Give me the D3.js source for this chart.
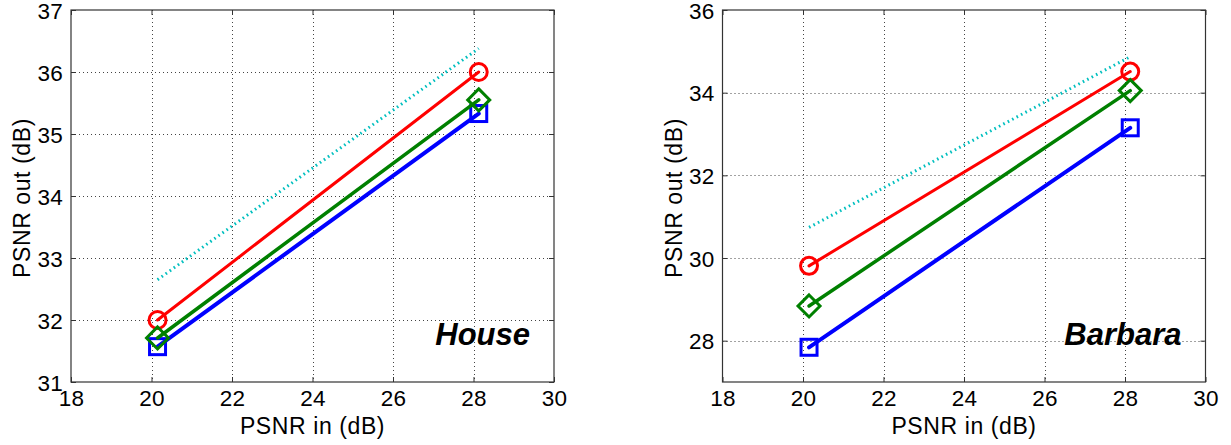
<!DOCTYPE html>
<html>
<head>
<meta charset="utf-8">
<script src="https://cdn.jsdelivr.net/npm/d3@7"></script>
<style>
  html, body { margin: 0; padding: 0; background: #fff; }
  svg { display: block; }
  text { font-family: "Liberation Sans", Arial, sans-serif; fill: #000; }
</style>
</head>
<body>
<svg id="chart" width="1231" height="445"></svg>
<script>
// ---- data ----
const psnrIn = [20.15, 28.13];

const houseCyan  = [32.65, 36.38];
const houseRed   = [32.0, 36.0];
const houseGreen = [31.71, 35.55];
const houseBlue  = [31.57, 35.33];

const barbaraCyan  = [30.74, 34.87];
const barbaraRed   = [29.81, 34.51];
const barbaraGreen = [28.84, 34.05];
const barbaraBlue  = [27.84, 33.15];

const xTicks = [18, 20, 22, 24, 26, 28, 30];
const houseYTicks = [31, 32, 33, 34, 35, 36, 37];
const barbaraYTicks = [28, 30, 32, 34, 36];

const panels = [
  { title: "House", xDomain: [18, 30], yDomain: [31, 37], yTicks: houseYTicks,
    left: 71, right: 554, top: 10, bottom: 382,
    data: { cyan: houseCyan, red: houseRed, green: houseGreen, blue: houseBlue } },
  { title: "Barbara", xDomain: [18, 30], yDomain: [27, 36], yTicks: barbaraYTicks,
    left: 722.5, right: 1205.5, top: 10, bottom: 382,
    data: { cyan: barbaraCyan, red: barbaraRed, green: barbaraGreen, blue: barbaraBlue } }
];

const styles = {
  cyan:  { color: "#00bfbf", width: 3, dash: "1.6,3.4", marker: null },
  red:   { color: "#ff0000", width: 3, dash: null, marker: "circle" },
  green: { color: "#008000", width: 3.5, dash: null, marker: "diamond" },
  blue:  { color: "#0000ff", width: 4, dash: null, marker: "square" }
};

const svg = d3.select("#chart");
svg.append("rect").attr("width", 1231).attr("height", 445).attr("fill", "#fff");

panels.forEach(p => {
  const x = d3.scaleLinear().domain(p.xDomain).range([p.left, p.right]);
  const y = d3.scaleLinear().domain(p.yDomain).range([p.bottom, p.top]);
  const g = svg.append("g");

  // grid
  const grid = g.append("g").attr("stroke", "#444").attr("stroke-width", 1)
    .attr("stroke-dasharray", "1,3");
  xTicks.slice(1, -1).forEach(t => {
    grid.append("line").attr("x1", Math.round(x(t)) + 0.5).attr("x2", Math.round(x(t)) + 0.5)
      .attr("y1", p.top).attr("y2", p.bottom);
  });
  p.yTicks.filter(t => t > p.yDomain[0] && t < p.yDomain[1]).forEach(t => {
    grid.append("line").attr("y1", Math.round(y(t)) + 0.5).attr("y2", Math.round(y(t)) + 0.5)
      .attr("x1", p.left).attr("x2", p.right);
  });

  // axes via d3 axes (inward ticks)
  const tl = 5;
  const xAxisB = d3.axisBottom(x).tickValues(xTicks).tickSize(-tl).tickPadding(tl + 10).tickFormat(d3.format("d"));
  const xAxisT = d3.axisTop(x).tickValues(xTicks).tickSize(-tl).tickFormat("");
  const yAxisL = d3.axisLeft(y).tickValues(p.yTicks).tickSize(-tl).tickPadding(tl + 3).tickFormat(d3.format("d"));
  const yAxisR = d3.axisRight(y).tickValues(p.yTicks).tickSize(-tl).tickFormat("");

  const axStyle = sel => {
    sel.selectAll("path.domain").remove();
    sel.selectAll("line").attr("stroke", "#333").attr("stroke-width", 1);
    sel.selectAll("text").style("font-size", "22.5px").style("letter-spacing", "0.2px")
      .attr("fill", "#000")
      .style("font-family", "'Liberation Sans', Arial, sans-serif");
  };
  g.append("g").attr("transform", `translate(0,${p.bottom})`).call(xAxisB).call(axStyle)
    .selectAll("text").attr("dy", "0.42em");
  g.append("g").attr("transform", `translate(0,${p.top})`).call(xAxisT).call(axStyle);
  g.append("g").attr("transform", `translate(${p.left},0)`).call(yAxisL).call(axStyle)
    .selectAll("text").attr("dy", "0.36em");
  g.append("g").attr("transform", `translate(${p.right},0)`).call(yAxisR).call(axStyle);

  // box
  g.append("rect").attr("x", p.left).attr("y", p.top)
    .attr("width", p.right - p.left).attr("height", p.bottom - p.top)
    .attr("fill", "none").attr("stroke", "#333").attr("stroke-width", 1.2);

  // series
  const line = d3.line().x((d, i) => x(psnrIn[i])).y(d => y(d));
  const plotG = g.append("g");
  ["cyan", "red", "blue", "green"].forEach(name => {
    const s = styles[name];
    const vals = p.data[name];
    plotG.append("path").datum(vals).attr("d", line)
      .attr("fill", "none").attr("stroke", s.color).attr("stroke-width", s.width)
      .attr("stroke-dasharray", s.dash).attr("stroke-linecap", s.dash ? "butt" : "round");
    if (s.marker) {
      vals.forEach((v, i) => {
        const cx = x(psnrIn[i]), cy = y(v);
        if (s.marker === "circle") {
          plotG.append("circle").attr("cx", cx).attr("cy", cy).attr("r", 8.5)
            .attr("fill", "none").attr("stroke", s.color).attr("stroke-width", 3);
        } else if (s.marker === "square") {
          plotG.append("rect").attr("x", cx - 8).attr("y", cy - 8).attr("width", 16).attr("height", 16)
            .attr("fill", "none").attr("stroke", s.color).attr("stroke-width", 3);
        } else {
          const r = 11;
          plotG.append("path").attr("d", `M${cx},${cy - r}L${cx + r},${cy}L${cx},${cy + r}L${cx - r},${cy}Z`)
            .attr("fill", "none").attr("stroke", s.color).attr("stroke-width", 3);
        }
      });
    }
  });

  // title label
  g.append("text").attr("x", p.right - 24).attr("y", p.bottom - 37)
    .attr("text-anchor", "end").style("font-size", "31px").style("font-weight", "bold")
    .style("font-style", "italic").text(p.title);

  // axis labels
  const cx = (p.left + p.right) / 2;
  g.append("text").attr("x", cx).attr("y", 434).attr("text-anchor", "middle")
    .style("font-size", "23px").style("letter-spacing", "0.6px").text("PSNR in (dB)");
  const cy = (p.top + p.bottom) / 2 + 2;
  g.append("text").attr("transform", `translate(${p.left - 41},${cy}) rotate(-90)`)
    .attr("text-anchor", "middle").style("font-size", "23px").style("letter-spacing", "0.6px")
    .text("PSNR out (dB)");
});
</script>
</body>
</html>
